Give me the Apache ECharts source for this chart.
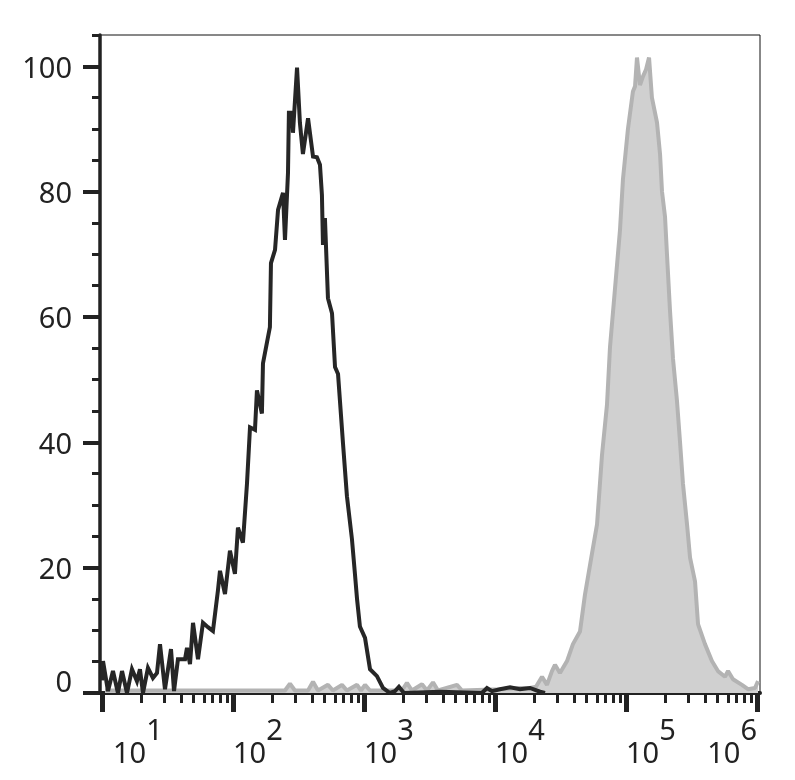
<!DOCTYPE html>
<html>
<head>
<meta charset="utf-8">
<script src="https://cdn.jsdelivr.net/npm/echarts@6/dist/echarts.min.js"></script>
<style>
  html, body { margin: 0; padding: 0; background: #fff; }
  #chart { width: 795px; height: 780px; }
</style>
</head>
<body>
<div id="chart"></div>
<script>
// x values are decade exponents (log10 of intensity), y values are % of max
const blackX = [1.000, 1.008, 1.046, 1.084, 1.122, 1.153, 1.191, 1.229, 1.267, 1.290, 1.313, 1.351, 1.389, 1.420, 1.443, 1.481, 1.527, 1.550, 1.580, 1.634, 1.649, 1.672, 1.695, 1.733, 1.771, 1.809, 1.847, 1.885, 1.901, 1.939, 1.977, 2.015, 2.038, 2.076, 2.107, 2.130, 2.168, 2.183, 2.221, 2.229, 2.260, 2.282, 2.290, 2.321, 2.344, 2.382, 2.397, 2.420, 2.427, 2.450, 2.458, 2.489, 2.511, 2.534, 2.573, 2.611, 2.641, 2.664, 2.679, 2.687, 2.702, 2.725, 2.756, 2.779, 2.802, 2.840, 2.870, 2.908, 2.931, 2.947, 2.969, 3.008, 3.046, 3.099, 3.145, 3.198, 3.237, 3.267, 3.305, 3.580, 3.900, 3.939, 3.977, 4.038, 4.115, 4.191, 4.267, 4.344, 4.382];
const blackY = [2.0, 5.1, 0.3, 3.5, 0.0, 3.5, 0.0, 3.8, 1.9, 3.8, 0.0, 4.0, 2.4, 3.2, 7.8, 0.6, 7.0, 0.3, 5.4, 5.4, 7.2, 4.6, 11.2, 5.4, 11.2, 10.5, 9.9, 16.3, 19.5, 15.8, 22.7, 19.0, 26.4, 24.0, 33.4, 42.4, 42.0, 48.3, 44.6, 52.6, 56.0, 58.4, 68.6, 70.7, 77.1, 79.8, 72.3, 83.0, 92.6, 92.6, 89.4, 99.8, 91.0, 86.0, 91.7, 85.6, 85.5, 84.3, 79.5, 71.5, 75.8, 63.0, 60.6, 52.0, 50.9, 39.8, 31.4, 24.6, 19.0, 15.0, 10.6, 8.8, 3.8, 2.7, 0.8, 0.0, 0.3, 1.0, 0.0, 0.2, 0.0, 0.8, 0.3, 0.6, 0.9, 0.6, 0.8, 0.2, 0.0];

const grayX = [1.023, 2.397, 2.435, 2.473, 2.573, 2.611, 2.649, 2.725, 2.763, 2.832, 2.870, 2.947, 2.977, 3.008, 3.046, 3.290, 3.328, 3.366, 3.443, 3.481, 3.527, 3.565, 3.710, 3.748, 4.038, 4.191, 4.267, 4.313, 4.359, 4.397, 4.435, 4.458, 4.496, 4.550, 4.595, 4.649, 4.687, 4.740, 4.779, 4.817, 4.855, 4.878, 4.916, 4.954, 4.977, 5.015, 5.053, 5.069, 5.084, 5.107, 5.130, 5.153, 5.176, 5.198, 5.237, 5.260, 5.275, 5.298, 5.313, 5.336, 5.359, 5.389, 5.412, 5.435, 5.466, 5.489, 5.527, 5.550, 5.603, 5.656, 5.702, 5.756, 5.779, 5.817, 5.885, 5.931, 5.985, 6.008];
const grayY = [0.4, 0.4, 1.5, 0.4, 0.4, 1.8, 0.4, 1.3, 0.4, 1.3, 0.4, 1.3, 0.4, 1.3, 0.4, 0.4, 1.6, 0.4, 1.4, 0.4, 1.7, 0.4, 1.3, 0.4, 0.6, 0.8, 0.8, 1.0, 2.6, 1.3, 3.5, 4.5, 3.2, 5.1, 7.8, 9.8, 15.7, 22.2, 26.9, 38.0, 46.0, 55.2, 64.5, 73.8, 82.0, 90.0, 96.0, 96.8, 101.4, 97.0, 98.4, 99.5, 101.4, 95.0, 91.0, 86.0, 80.0, 76.0, 70.0, 61.0, 53.3, 46.7, 40.2, 33.4, 26.9, 21.6, 17.8, 11.0, 7.8, 5.1, 3.5, 2.6, 3.5, 2.2, 1.3, 0.6, 0.8, 1.9];

const xDecades = [1, 2, 3, 4, 5, 6];
const yTicks = [0, 20, 40, 60, 80, 100];
const yMinorTicks = [5, 10, 15, 25, 30, 35, 45, 50, 55, 65, 70, 75, 85, 90, 95, 105];

// minor ticks at 2..9 times each decade
const xMinor = [];
for (let d = 1; d < 6; d++) {
  for (let k = 2; k <= 9; k++) xMinor.push(d + Math.log10(k));
}

const zip = (xs, ys) => xs.map((x, i) => [x, ys[i]]);

const FONT = 'Noto Sans';
const INK = '#222';
const xMin = 0.985, xMax = 6.023;

const chart = echarts.init(document.getElementById('chart'));

const option = {
  animation: false,
  grid: {
    left: 100, right: 35, top: 35, bottom: 87,
    show: true, borderColor: '#111', borderWidth: 1
  },
  xAxis: [{
    type: 'value', min: xMin, max: xMax, position: 'bottom',
    splitLine: { show: false },
    axisLine: { lineStyle: { color: INK, width: 4 } },
    axisTick: { customValues: xDecades, length: 19, lineStyle: { color: INK, width: 5 } },
    axisLabel: {
      customValues: xDecades,
      margin: 24,
      align: 'left',
      alignMaxLabel: 'right',
      formatter: function (v) {
        const base = v === 1 ? 'b1' : 'b';
        return '{' + base + '|10}{s|' + v + '}';
      },
      rich: {
        b: { fontFamily: FONT, fontSize: 29, color: INK, padding: [23, 0, 0, 0], verticalAlign: 'bottom' },
        b1: { fontFamily: FONT, fontSize: 29, color: INK, padding: [23, 0, 0, 11], verticalAlign: 'bottom' },
        s: { fontFamily: FONT, fontSize: 29, color: INK, verticalAlign: 'top', padding: [0, 0, 0, 0] }
      }
    }
  }, {
    type: 'value', min: xMin, max: xMax, position: 'bottom',
    splitLine: { show: false },
    axisLine: { show: false },
    axisTick: { customValues: xMinor, length: 10, lineStyle: { color: INK, width: 3 } },
    axisLabel: { show: false }
  }],
  yAxis: [{
    type: 'value', min: 0, max: 105, position: 'left',
    splitLine: { show: false },
    axisLine: { show: true, lineStyle: { color: INK, width: 3.5 } },
    axisTick: { show: true, customValues: yTicks, length: 17, lineStyle: { color: INK, width: 4 } },
    axisLabel: {
      customValues: yTicks,
      margin: 28,
      fontFamily: FONT, fontSize: 29, color: INK,
      formatter: function (v) {
        return v === 0 ? '{z|0}' : '{n|' + v + '}';
      },
      rich: {
        n: { fontFamily: FONT, fontSize: 29, color: INK, padding: [6, 0, 0, 0] },
        z: { fontFamily: FONT, fontSize: 29, color: INK, padding: [0, 0, 18, 0] }
      }
    }
  }, {
    type: 'value', min: 0, max: 105, position: 'left',
    splitLine: { show: false },
    axisLine: { show: false },
    axisTick: { show: true, customValues: yMinorTicks, length: 8, lineStyle: { color: INK, width: 3 } },
    axisLabel: { show: false }
  }],
  series: [{
    name: 'filled',
    type: 'line',
    data: zip(grayX, grayY),
    showSymbol: false,
    lineStyle: { color: '#b3b3b3', width: 4 },
    areaStyle: { color: '#d0d0d0', opacity: 1 },
    z: 2
  }, {
    name: 'outline',
    type: 'line',
    data: zip(blackX, blackY),
    showSymbol: false,
    lineStyle: { color: '#262626', width: 4, join: 'miter', miterLimit: 4 },
    z: 3
  }]
};

chart.setOption(option);
</script>
</body>
</html>
